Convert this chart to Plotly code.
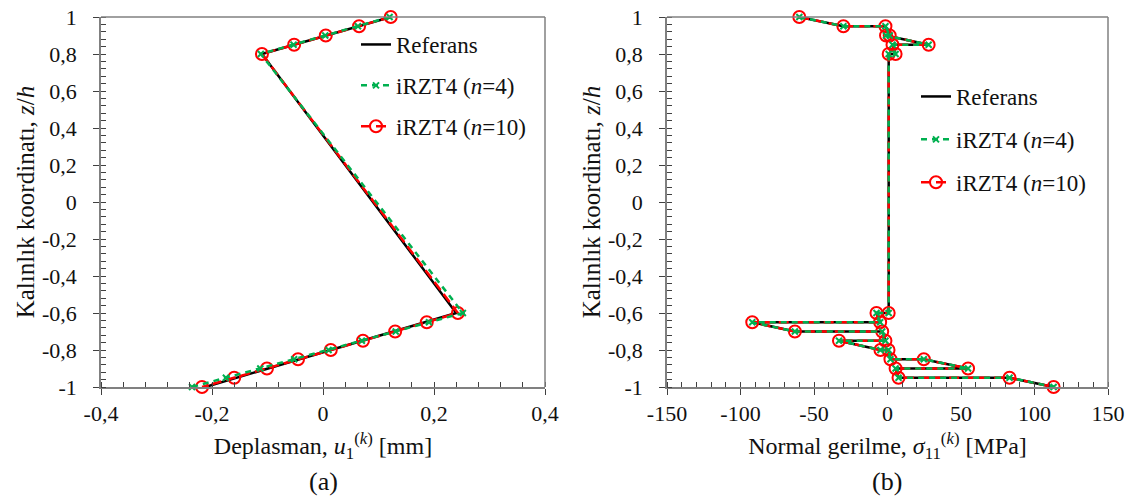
import plotly.graph_objects as go

# ---------------- data: panel (a) displacement ----------------
z_a_red = [1, 0.95, 0.9, 0.85, 0.8, -0.6, -0.65, -0.7, -0.75, -0.8, -0.85, -0.9, -0.95, -1]
u_a_red = [0.122, 0.065, 0.005, -0.052, -0.110, 0.243, 0.187, 0.130, 0.072, 0.014, -0.045, -0.101, -0.160, -0.218]
u_a_green = [0.120, 0.063, 0.004, -0.053, -0.112, 0.252, 0.191, 0.131, 0.070, 0.010, -0.052, -0.113, -0.175, -0.236]
z_a_ref = [1, 0.8, -0.6, -1]
u_a_ref = [0.122, -0.110, 0.240, -0.212]

# ---------------- data: panel (b) normal stress ----------------
z_b = [1, 0.95, 0.95, 0.9, 0.9, 0.85, 0.85, 0.8, 0.8, -0.6, -0.6, -0.65, -0.65,
       -0.7, -0.7, -0.75, -0.75, -0.8, -0.8, -0.85, -0.85, -0.9, -0.9, -0.95, -0.95, -1]
s_b = [-60, -30, -1.4, 1.5, -1, 28, 3.4, 5.5, 0.8, 0.8, -7.5, -5, -92,
       -63, -3.6, -1.4, -33, -4.8, 0.7, 2, 24.7, 54.8, 5.5, 7.5, 83, 113]

y_ticks = [-1, -0.8, -0.6, -0.4, -0.2, 0, 0.2, 0.4, 0.6, 0.8, 1]
y_ticktext = ["-1", "-0,8", "-0,6", "-0,4", "-0,2", "0", "0,2", "0,4", "0,6", "0,8", "1"]
xa_ticks = [-0.4, -0.2, 0, 0.2, 0.4]
xa_ticktext = ["-0,4", "-0,2", "0", "0,2", "0,4"]
xb_ticks = [-150, -100, -50, 0, 50, 100, 150]
xb_ticktext = ["-150", "-100", "-50", "0", "50", "100", "150"]

BLACK = "#000000"
GREEN = "#00B050"
RED = "#FF0000"
FRAME = "#808080"
FONT = "Liberation Serif, DejaVu Serif, serif"

fig = go.Figure()

def add_set(xs_ref, zs_ref, xs_g, zs_g, xs_r, zs_r, xa, ya, legend):
    fig.add_trace(go.Scatter(x=xs_ref, y=zs_ref, mode="lines", name="Referans",
                             line=dict(color=BLACK, width=2.5), xaxis=xa, yaxis=ya,
                             legend=legend, legendgroup=legend + "a", legendrank=1,
                             cliponaxis=False))
    fig.add_trace(go.Scatter(x=xs_r, y=zs_r, mode="lines+markers", name="iRZT4 (<i>n</i>=10)",
                             line=dict(color=RED, width=2.5, dash="10px,5px"),
                             marker=dict(symbol="circle-open", size=12, color=RED, line=dict(width=2)),
                             xaxis=xa, yaxis=ya, legend=legend, legendgroup=legend + "c",
                             legendrank=3, cliponaxis=False))
    fig.add_trace(go.Scatter(x=xs_g, y=zs_g, mode="lines+markers", name="iRZT4 (<i>n</i>=4)",
                             line=dict(color=GREEN, width=2.5, dash="6px,5px"),
                             marker=dict(symbol="x-thin", size=6, color=GREEN, line=dict(width=2, color=GREEN)),
                             xaxis=xa, yaxis=ya, legend=legend, legendgroup=legend + "b",
                             legendrank=2, cliponaxis=False))

add_set(u_a_ref, z_a_ref, u_a_green, z_a_red, u_a_red, z_a_red, "x", "y", "legend")
add_set(s_b, z_b, s_b, z_b, s_b, z_b, "x2", "y2", "legend2")

# body margin is removed by the post_script below, so page pixels = figure pixels
OFF = 0
W, H = 1136, 500
def px_x(p):
    return (p - OFF) / W
def px_y(p):
    return 1 - (p - OFF) / H

xa_dom = [px_x(101), px_x(545)]
xb_dom = [px_x(667), px_x(1108)]
y_dom = [px_y(387), px_y(17)]

TICKC = "#404040"
axis_common = dict(showline=True, linecolor=FRAME, linewidth=1.5, mirror=False,
                   showgrid=False, zeroline=False, ticks="outside", ticklen=6,
                   tickcolor=TICKC, tickwidth=1.2, automargin=False,
                   ticklabeloverflow="allow",
                   tickfont=dict(family=FONT, size=22, color="#111"))

# explicit top/right frame lines of both panels
frame_shapes = []
for xr, yr in (("x domain", "y domain"), ("x2 domain", "y2 domain")):
    frame_shapes.append(dict(type="line", xref=xr, yref=yr, x0=0, x1=1, y0=1, y1=1,
                             line=dict(color=FRAME, width=1.5), layer="above"))
    frame_shapes.append(dict(type="line", xref=xr, yref=yr, x0=1, x1=1, y0=0, y1=1,
                             line=dict(color=FRAME, width=1.5), layer="above"))

fig.update_layout(
    width=W, height=H, margin=dict(l=0, r=0, t=0, b=0, autoexpand=False),
    paper_bgcolor="white", plot_bgcolor="white",
    font=dict(family=FONT, size=22, color="#111"),
    shapes=frame_shapes,
    xaxis=dict(domain=xa_dom, range=[-0.4, 0.4], tickvals=xa_ticks, ticktext=xa_ticktext,
               minor=dict(dtick=0.04, ticks="inside", ticklen=5, tickcolor=TICKC),
               title=dict(text="Deplasman, <i>u</i><sub>1</sub><sup>(<i>k</i>)</sup> [mm]",
                          font=dict(family=FONT, size=24), standoff=12),
               anchor="y", **axis_common),
    yaxis=dict(domain=y_dom, range=[-1, 1], tickvals=y_ticks, ticktext=y_ticktext,
               minor=dict(dtick=0.04, ticks="inside", ticklen=5, tickcolor=TICKC),
               title=dict(text="Kalınlık koordinatı, <i>z</i>/<i>h</i>",
                          font=dict(family=FONT, size=25), standoff=0),
               ticklabelstandoff=12, anchor="x", **axis_common),
    xaxis2=dict(domain=xb_dom, range=[-150, 150], tickvals=xb_ticks, ticktext=xb_ticktext,
                minor=dict(dtick=10, ticks="inside", ticklen=5, tickcolor=TICKC),
                title=dict(text="Normal gerilme, <i>σ</i><sub>11</sub><sup>(<i>k</i>)</sup> [MPa]",
                           font=dict(family=FONT, size=24), standoff=12),
                anchor="y2", **axis_common),
    yaxis2=dict(domain=y_dom, range=[-1, 1], tickvals=y_ticks, ticktext=y_ticktext,
                minor=dict(dtick=0.04, ticks="inside", ticklen=5, tickcolor=TICKC),
                title=dict(text="Kalınlık koordinatı, <i>z</i>/<i>h</i>",
                           font=dict(family=FONT, size=25), standoff=0),
                ticklabelstandoff=12, anchor="x2", **axis_common),
    legend=dict(x=px_x(356), y=px_y(23), xanchor="left", yanchor="top",
                bgcolor="rgba(0,0,0,0)", font=dict(family=FONT, size=23, color="#111"),
                tracegroupgap=8, itemwidth=30),
    legend2=dict(x=px_x(916), y=px_y(75), xanchor="left", yanchor="top",
                 bgcolor="rgba(0,0,0,0)", font=dict(family=FONT, size=23, color="#111"),
                 tracegroupgap=10, itemwidth=30),
    annotations=[
        dict(text="(a)", x=px_x(323), y=px_y(481), xref="paper", yref="paper",
             xanchor="center", yanchor="middle",
             showarrow=False, font=dict(family=FONT, size=26, color="#111")),
        dict(text="(b)", x=px_x(887), y=px_y(481), xref="paper", yref="paper",
             xanchor="center", yanchor="middle",
             showarrow=False, font=dict(family=FONT, size=26, color="#111")),
    ],
)

fig.write_html("out.html", config={"displayModeBar": False},
               post_script="document.body.style.margin='0';")
